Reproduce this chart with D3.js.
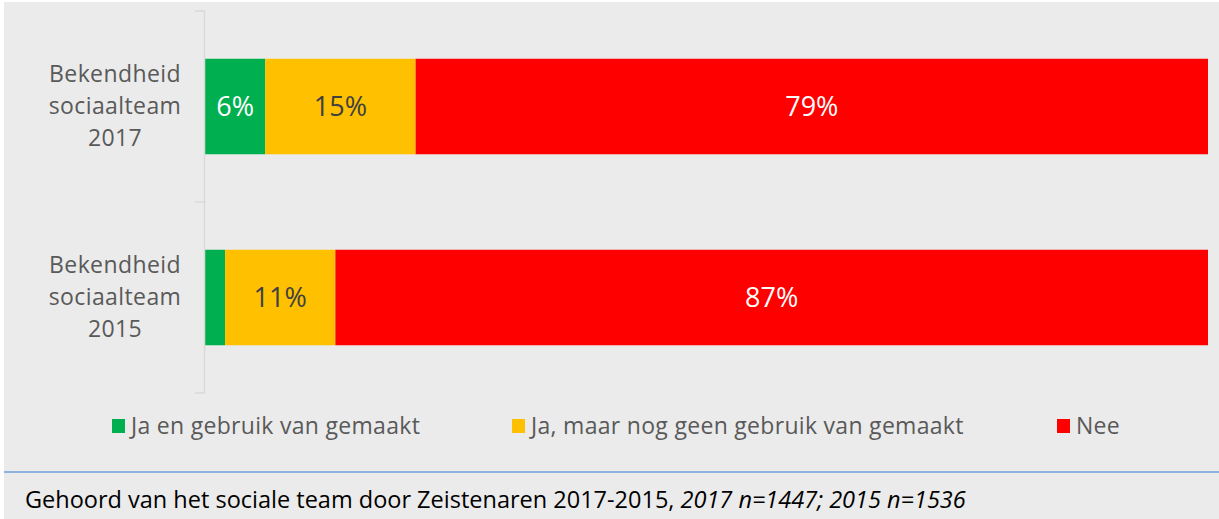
<!DOCTYPE html>
<html>
<head>
<meta charset="utf-8">
<script src="https://cdn.jsdelivr.net/npm/d3@7"></script>
<style>
  html, body { margin: 0; padding: 0; background: #ffffff; }
  svg { display: block; }
  text { font-family: "Open Sans", "Noto Sans", sans-serif; }
</style>
</head>
<body>
<svg id="chart" width="1219" height="519"></svg>
<script>
// Categories (top to bottom) and their label lines
const categories = ["2017", "2015"];
const categoryLines = [
  ["Bekendheid", "sociaalteam", "2017"],
  ["Bekendheid", "sociaalteam", "2015"]
];

// Series: share of respondents (%) per category
const seriesNames = ["Ja en gebruik van gemaakt", "Ja, maar nog geen gebruik van gemaakt", "Nee"];
const jaGebruikt = [6, 2];
const jaNietGebruikt = [15, 11];
const nee = [79, 87];
const seriesColors = ["#00b050", "#ffc000", "#ff0000"];
const labelColors = ["#ffffff", "#404040", "#ffffff"];
// Smallest segment value that still gets a data label
const minLabelValue = 3;

const captionMain = "Gehoord van het sociale team door Zeistenaren 2017-2015, ";
const captionItalic = "2017 n=1447; 2015 n=1536";

const svg = d3.select("#chart");
const W = 1219, H = 519;

// Chart area background
svg.append("rect").attr("x", 4).attr("y", 2).attr("width", W - 4).attr("height", H - 2).attr("fill", "#ebebeb");

const x = d3.scaleLinear().domain([0, 100]).range([205, 1208]);
const y = d3.scaleBand().domain(categories).range([11, 393]).paddingInner(0.5).paddingOuter(0.25);

// Stack the series
const rows = categories.map((c, i) => ({ cat: c, s0: jaGebruikt[i], s1: jaNietGebruikt[i], s2: nee[i] }));
const stack = d3.stack().keys(["s0", "s1", "s2"]);
const layers = stack(rows);

const g = svg.append("g");
layers.forEach((layer, li) => {
  g.selectAll(null).data(layer).enter().append("rect")
    .attr("x", d => x(d[0]))
    .attr("y", d => y(d.data.cat))
    .attr("width", d => x(d[1]) - x(d[0]))
    .attr("height", y.bandwidth())
    .attr("fill", seriesColors[li]);
  g.selectAll(null).data(layer.filter(d => d[1] - d[0] >= minLabelValue)).enter().append("text")
    .attr("x", d => (x(d[0]) + x(d[1])) / 2)
    .attr("y", d => y(d.data.cat) + y.bandwidth() / 2 + 9.5)
    .attr("text-anchor", "middle")
    .attr("font-size", 27)
    .attr("fill", labelColors[li])
    .text(d => d3.format(".0f")(d[1] - d[0]) + "%");
});

// Category axis: line plus tick marks at the category boundaries
const axisColor = "#d9d9d9";
const axis = svg.append("g");
const [r0, r1] = y.range();
axis.append("line").attr("x1", x(0) - 0.5).attr("x2", x(0) - 0.5).attr("y1", r0).attr("y2", r1)
  .attr("stroke", axisColor).attr("stroke-width", 1.5);
const tickYs = d3.range(categories.length + 1).map(i => r0 + i * (r1 - r0) / categories.length);
axis.selectAll(null).data(tickYs).enter().append("line")
  .attr("x1", x(0) - 10).attr("x2", x(0)).attr("y1", d => d).attr("y2", d => d)
  .attr("stroke", axisColor).attr("stroke-width", 1.5);

// Category labels
categories.forEach((c, i) => {
  const cy = y(c) + y.bandwidth() / 2;
  const t = svg.append("text").attr("text-anchor", "middle").attr("font-size", 23)
    .attr("letter-spacing", 0.4).attr("fill", "#595959");
  categoryLines[i].forEach((line, li) => {
    t.append("tspan").attr("x", 115).attr("y", cy + 7 + (li - 1) * 32).text(line);
  });
});

// Legend
const legendX = [112, 512, 1057];
const legend = svg.append("g");
seriesNames.forEach((name, i) => {
  legend.append("rect").attr("x", legendX[i]).attr("y", 419).attr("width", 13).attr("height", 14).attr("fill", seriesColors[i]);
  legend.append("text").attr("x", legendX[i] + 19).attr("y", 434).attr("font-size", 23)
    .attr("letter-spacing", 0.3).attr("fill", "#595959").text(name);
});

// Separator and caption
svg.append("line").attr("x1", 4).attr("x2", W).attr("y1", 472).attr("y2", 472).attr("stroke", "#8db4dc").attr("stroke-width", 2);
const cap = svg.append("text").attr("x", 25).attr("y", 508).attr("font-size", 23.5).attr("fill", "#000000");
cap.append("tspan").text(captionMain);
cap.append("tspan").attr("font-style", "italic").text(captionItalic);
</script>
</body>
</html>
